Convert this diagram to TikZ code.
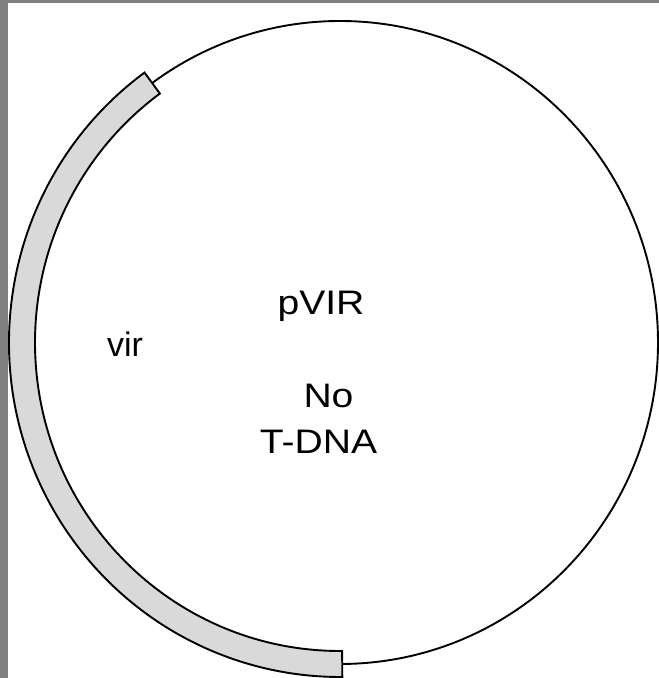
\documentclass[tikz,border=0pt]{standalone}
\usepackage{fontspec}
\setmainfont{Liberation Sans}
\usetikzlibrary{calc}
\definecolor{frame}{HTML}{808080}
\definecolor{bandfill}{HTML}{D9D9D9}
\tikzset{
  lbl/.style={anchor=base, inner sep=0pt, font=\fontsize{34}{38}\selectfont},
  ring/.style={draw=black, line width=1.9pt},
  band/.style={draw=black, line width=1.9pt, fill=bandfill, line join=miter}
}
\begin{document}
\begin{tikzpicture}[x=1pt,y=1pt]
\useasboundingbox (0,0) rectangle (659,678);
\fill[frame] (0,0) rectangle (659,678);
\fill[white] (8,0) rectangle (659,675);
\coordinate (c) at (340,335.5);
\draw[ring] (c) ellipse[x radius=318, y radius=321.5];
\draw[band] ($(c)+(126.2:331 and 334.5)$) arc[start angle=126.2, end angle=270.4, x radius=331, y radius=334.5]
  -- ($(c)+(270.4:305 and 308.5)$) arc[start angle=270.4, end angle=126.2, x radius=305, y radius=308.5] -- cycle;
\node[lbl] (pvir) at (321,363) {\scalebox{1.15}[1]{pVIR}};
\node[lbl] (no) at (328.5,270) {\scalebox{1.15}[1]{No}};
\node[lbl] (tdna) at (318.5,224) {\scalebox{1.15}[1]{T-DNA}};
\node[lbl] (vir) at (125,321) {vir};
\end{tikzpicture}
\end{document}
